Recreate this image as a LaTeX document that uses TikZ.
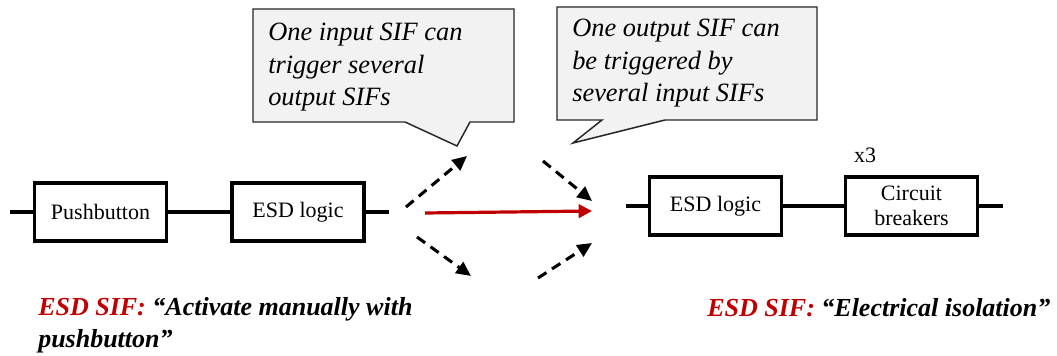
\documentclass[tikz,border=0pt]{standalone}
\usepackage{fontspec}
\setmainfont{Liberation Serif}
\usetikzlibrary{arrows.meta}
\definecolor{sifred}{HTML}{C00000}
\definecolor{notefill}{HTML}{F2F2F2}
\begin{document}
\begin{tikzpicture}[x=0.75pt,y=-0.75pt,
  blk/.style={draw=black,line width=2.9pt,fill=white,inner sep=0pt,
    minimum width=99pt,minimum height=43pt,align=center,
    font=\fontsize{16.5}{18.75}\selectfont},
  wire/.style={line width=2.3pt},
  dasharrow/.style={line width=2.3pt,dash pattern=on 7.5pt off 5pt,
    -{Triangle[length=11pt,width=10pt]}},
  mainarrow/.style={line width=2.4pt,draw=sifred,
    -{Triangle[length=10pt,width=10pt]}},
  note/.style={draw=black!85,line width=1.1pt,fill=notefill,line join=miter},
  notetext/.style={inner sep=0pt,anchor=base west,align=left,
    font=\fontsize{19.8}{24.4}\selectfont\itshape},
  siftext/.style={inner sep=0pt,anchor=base west,align=left,
    font=\fontsize{19.5}{24}\selectfont\bfseries\itshape}]
\useasboundingbox (0,0) rectangle (1057,356);

% speech bubbles (multi-line nodes are placed by their last baseline)
\path[note] (253,9) -- (514,9) -- (514,122) -- (470,122) -- (457,146)
  -- (405,122) -- (253,122) -- cycle;
\node[notetext] (n1) at (268,106) {One input SIF can\\trigger several\\output SIFs};
\path[note] (557,7) -- (817,7) -- (817,120) -- (665,120) -- (573,143)
  -- (602,120) -- (557,120) -- cycle;
\node[notetext] (n2) at (572,102) {One output SIF can\\be triggered by\\several input SIFs};

% input chain
\node[blk] (pb) at (100.5,212) {Pushbutton};
\node[blk] (lg1) at (298,212) {ESD logic};
\coordinate (inL) at (10,212);
\coordinate (inR) at (389,212);
\draw[wire] (inL) -- (pb.west);
\draw[wire] (pb.east) -- (lg1.west);
\draw[wire] (lg1.east) -- (inR);

% output chain
\coordinate (outL) at (626,206);
\node[blk] (lg2) at (715.5,206) {ESD logic};
\node[blk] (cb) at (911.5,206) {Circuit\\breakers};
\coordinate (outR) at (1003,206);
\draw[wire] (outL) -- (lg2.west);
\draw[wire] (lg2.east) -- (cb.west);
\draw[wire] (cb.east) -- (outR);
\node[font=\fontsize{16.5}{18}\selectfont,inner sep=0pt] (x3) at (865,155) {x3};

% links between the functions
\coordinate (a1s) at (406,207);
\coordinate (a1e) at (467,156);
\coordinate (a2s) at (417,237);
\coordinate (a2e) at (471,276);
\coordinate (a3s) at (543,161);
\coordinate (a3e) at (592,201);
\coordinate (a4s) at (538,278);
\coordinate (a4e) at (592,243);
\coordinate (rs) at (425,213);
\coordinate (re) at (592,211);
\draw[dasharrow] (a1s) -- (a1e);
\draw[dasharrow] (a2s) -- (a2e);
\draw[dasharrow] (a3s) -- (a3e);
\draw[dasharrow] (a4s) -- (a4e);
\draw[mainarrow] (rs) -- (re);

% descriptions
\node[siftext] (s1) at (38,347) {\textcolor{sifred}{ESD SIF:} “Activate manually with\\pushbutton”};
\node[siftext] (s2) at (707,316) {\textcolor{sifred}{ESD SIF:} “Electrical isolation”};
\end{tikzpicture}
\end{document}
